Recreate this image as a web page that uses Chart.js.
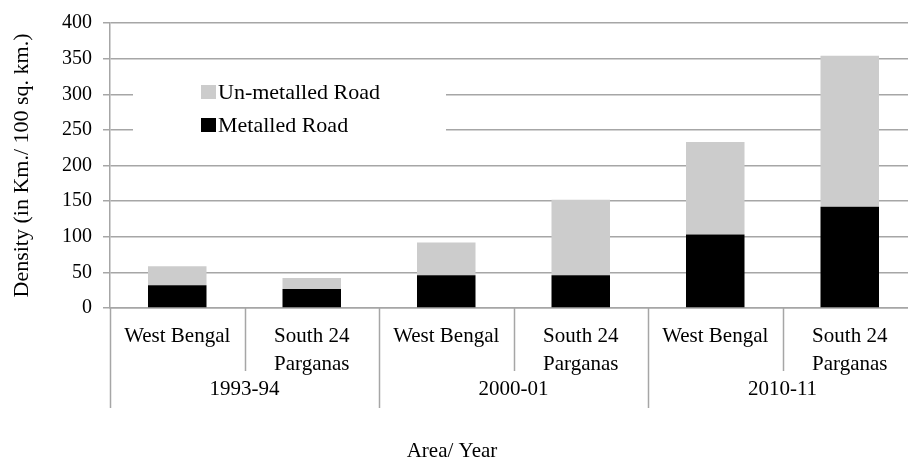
<!DOCTYPE html>
<html>
<head>
<meta charset="utf-8">
<script src="https://cdn.jsdelivr.net/npm/chart.js@4"></script>
<style>
  html, body { margin: 0; padding: 0; background: #fff; overflow: hidden; }
  #wrap { width: 908px; height: 460px; overflow: hidden; }
</style>
</head>
<body>
<div id="wrap"><canvas id="myChart" width="918" height="460"></canvas></div>
<script>
const areas = ["West Bengal", ["South 24", "Parganas"], "West Bengal", ["South 24", "Parganas"], "West Bengal", ["South 24", "Parganas"]];
const years = ["1993-94", "2000-01", "2010-11"];
const metalled = [32, 26.5, 46, 46, 103, 142];
const unmetalled = [26.5, 15.5, 46, 106, 130, 212];
const yTicks = [0, 50, 100, 150, 200, 250, 300, 350, 400];
const xTitle = "Area/ Year";

const fontFamily = "'Liberation Serif', 'Times New Roman', serif";
const gridColor = "#a6a6a6";

// year labels + separators under the category labels, and the x title
const groupAxis = {
  id: "groupAxis",
  afterDraw(chart) {
    const ctx = chart.ctx;
    const x = chart.scales.x;
    const area = chart.chartArea;
    const step = (x.right - x.left) / areas.length;
    ctx.save();
    ctx.strokeStyle = gridColor;
    ctx.lineWidth = 1.5;
    for (let i = 0; i <= areas.length; i++) {
      const px = Math.round(x.left + i * step) + 0.5;
      const long = i % 2 === 0;
      ctx.beginPath();
      ctx.moveTo(px, area.bottom);
      ctx.lineTo(px, area.bottom + (long ? 100 : 63));
      ctx.stroke();
    }
    ctx.fillStyle = "#000";
    ctx.font = "21px " + fontFamily;
    ctx.textAlign = "center";
    ctx.textBaseline = "middle";
    years.forEach((y, i) => {
      const cx = (x.getPixelForValue(i * 2) + x.getPixelForValue(i * 2 + 1)) / 2;
      ctx.fillText(y, cx, area.bottom + 81);
    });
    ctx.fillText(xTitle, 452, area.bottom + 143);
    ctx.restore();
  }
};

// legend sitting inside the plot on a white box
const innerLegend = {
  id: "innerLegend",
  afterDatasetsDraw(chart) {
    const ctx = chart.ctx;
    const area = chart.chartArea;
    ctx.save();
    ctx.fillStyle = "#fff";
    ctx.fillRect(area.left + 23, area.top + 44, 313, 90);
    ctx.font = "22px " + fontFamily;
    ctx.textBaseline = "middle";
    ctx.textAlign = "left";
    const items = chart.data.datasets.slice().reverse();
    items.forEach((ds, i) => {
      const y = area.top + 69 + i * 33;
      ctx.fillStyle = ds.backgroundColor;
      ctx.fillRect(area.left + 91, y - 7, 15, 14);
      ctx.fillStyle = "#000";
      ctx.fillText(ds.label, area.left + 108, y + 1);
    });
    ctx.restore();
  }
};

const ctx = document.getElementById("myChart").getContext("2d");
const myChart = new Chart(ctx, {
  type: "bar",
  data: {
    labels: areas,
    datasets: [
      {
        label: "Metalled Road",
        data: metalled,
        backgroundColor: "#000000",
        borderWidth: 0
      },
      {
        label: "Un-metalled Road",
        data: unmetalled,
        backgroundColor: "#cccccc",
        borderWidth: 0
      }
    ]
  },
  options: {
    responsive: false,
    animation: false,
    devicePixelRatio: 1,
    layout: { padding: { top: 12, right: 1, left: 0, bottom: 0 } },
    datasets: { bar: { categoryPercentage: 1, barPercentage: 0.435 } },
    plugins: {
      legend: { display: false },
      tooltip: { enabled: false }
    },
    scales: {
      x: {
        stacked: true,
        grid: { display: true, drawOnChartArea: false, drawTicks: false, offset: true, color: gridColor },
        border: { color: gridColor, width: 1.5 },
        ticks: {
          color: "#000",
          font: { family: fontFamily, size: 21, lineHeight: 1.35 },
          padding: 14,
          maxRotation: 0,
          autoSkip: false
        },
        afterFit(scale) { scale.height = 152; }
      },
      y: {
        stacked: true,
        min: 0,
        max: 400,
        afterBuildTicks(scale) { scale.ticks = yTicks.map(v => ({ value: v })); },
        grid: { color: gridColor, lineWidth: 1.5, tickLength: 7 },
        border: { color: gridColor, width: 1.5 },
        ticks: {
          color: "#000",
          font: { family: fontFamily, size: 20 },
          padding: 11
        },
        title: {
          display: true,
          text: "Density (in Km./ 100 sq. km.)",
          color: "#000",
          font: { family: fontFamily, size: 22 },
          padding: { top: 9, bottom: 0 }
        },
        afterFit(scale) { scale.width = 110; }
      }
    }
  },
  plugins: [groupAxis, innerLegend]
});
</script>
</body>
</html>
